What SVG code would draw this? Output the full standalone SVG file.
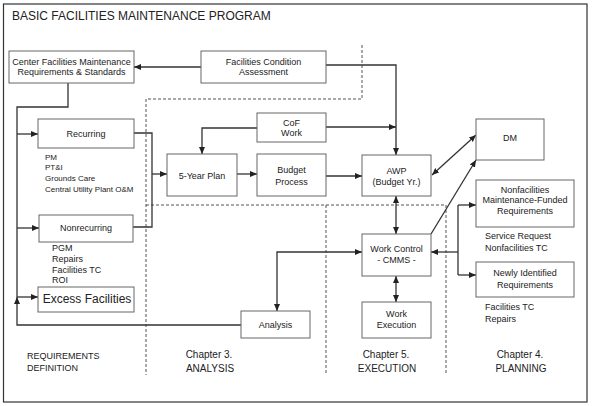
<svg xmlns="http://www.w3.org/2000/svg" width="593" height="406" viewBox="0 0 593 406">
<defs>
<marker id="a" markerUnits="userSpaceOnUse" markerWidth="7" markerHeight="6" refX="7" refY="3" orient="auto-start-reverse"><path d="M0,0 L7,3 L0,6 z" fill="#222"/></marker>
<style>
.b{fill:#fff;stroke:#666;stroke-width:1}
text{font-family:"Liberation Sans",Arial,sans-serif;font-size:9px;fill:#222}
.c{text-anchor:middle}
.ch{text-anchor:middle;font-size:10px}
.l{fill:none;stroke:#333;stroke-width:1.3}
.d{fill:none;stroke:#555;stroke-width:1;stroke-dasharray:3,2}
</style>
</defs>
<rect x="0" y="0" width="593" height="406" fill="#fff"/>
<rect x="3.5" y="4" width="583.5" height="398" fill="none" stroke="#333" stroke-width="1.2"/>
<text x="12" y="20" style="font-size:12px">BASIC FACILITIES MAINTENANCE PROGRAM</text>

<g id="dividers">
<path class="d" d="M362,45 V99 H146 V375"/>
<path class="d" d="M146,205 H446 V375"/>
<path class="d" d="M326,205 V375"/>
</g>

<g id="connectors">
<path class="l" d="M201,67 H134" marker-end="url(#a)"/>
<path class="l" d="M326,65 H396 V155" marker-end="url(#a)"/>
<path class="l" d="M326,127 H396" marker-end="url(#a)"/>
<path class="l" d="M257,128 H202 V154" marker-end="url(#a)"/>
<path class="l" d="M68,83 V107 H17 V297"/>
<path class="l" d="M241,325 H17 V297" marker-end="url(#a)"/>
<path class="l" d="M17,134 H38" marker-end="url(#a)"/>
<path class="l" d="M17,228 H39" marker-end="url(#a)"/>
<path class="l" d="M17,297 H38" marker-end="url(#a)"/>
<path class="l" d="M134,133 H152 V227 H133"/>
<path class="l" d="M152,174 H167" marker-end="url(#a)"/>
<path class="l" d="M237,174 H257" marker-end="url(#a)"/>
<path class="l" d="M326,176 H362" marker-end="url(#a)"/>
<path class="l" d="M432,175 L476,135" marker-start="url(#a)" marker-end="url(#a)"/>
<path class="l" d="M431,234 L476,160" marker-end="url(#a)"/>
<path class="l" d="M396,196 V234" marker-start="url(#a)" marker-end="url(#a)"/>
<path class="l" d="M396,276 V302" marker-start="url(#a)" marker-end="url(#a)"/>
<path class="l" d="M458,205 V275"/>
<path class="l" d="M458,205 H476" marker-end="url(#a)"/>
<path class="l" d="M458,275 H476" marker-end="url(#a)"/>
<path class="l" d="M458,252 H431" marker-end="url(#a)"/>
<path class="l" d="M362,252 H277 V311" marker-start="url(#a)" marker-end="url(#a)"/>
</g>

<g id="center"><rect class="b" x="9" y="51" width="125" height="32"/>
<text class="c" x="71.5" y="65">Center Facilities Maintenance</text>
<text class="c" x="71.5" y="75">Requirements &amp; Standards</text></g>

<g id="fca"><rect class="b" x="201" y="51" width="125" height="32"/>
<text class="c" x="263.5" y="65">Facilities Condition</text>
<text class="c" x="263.5" y="75">Assessment</text></g>

<g id="recurring"><rect class="b" x="38" y="119" width="96" height="29"/>
<text class="c" x="86" y="137">Recurring</text>
<text x="45" y="160" style="font-size:8px">PM</text>
<text x="45" y="170" style="font-size:8px">PT&amp;I</text>
<text x="45" y="180.5" style="font-size:8px">Grounds Care</text>
<text x="45" y="192" style="font-size:8px">Central Utility Plant O&amp;M</text></g>

<g id="nonrecurring"><rect class="b" x="39" y="215" width="94" height="27"/>
<text class="c" x="86" y="230.5">Nonrecurring</text>
<text x="52" y="250.5">PGM</text>
<text x="52" y="261.5">Repairs</text>
<text x="52" y="273">Facilities TC</text>
<text x="52" y="283">ROI</text></g>

<g id="excess"><rect class="b" x="38" y="287" width="96" height="25"/>
<text class="c" x="87" y="302.5" style="font-size:12px">Excess Facilities</text></g>

<g id="cof"><rect class="b" x="257" y="113" width="69" height="29"/>
<text class="c" x="291.5" y="126">CoF</text>
<text class="c" x="291.5" y="136">Work</text></g>

<g id="fiveyear"><rect class="b" x="167" y="154" width="70" height="42"/>
<text class="c" x="202" y="179">5-Year Plan</text></g>

<g id="budget"><rect class="b" x="257" y="154" width="69" height="42"/>
<text class="c" x="291.5" y="173">Budget</text>
<text class="c" x="291.5" y="185">Process</text></g>

<g id="awp"><rect class="b" x="362" y="155" width="69" height="41"/>
<text class="c" x="396.5" y="174">AWP</text>
<text class="c" x="396.5" y="185">(Budget Yr.)</text></g>

<g id="dm"><rect class="b" x="476" y="119" width="68" height="41"/>
<text class="c" x="510" y="140.5">DM</text></g>

<g id="nonfacilities"><rect class="b" x="476" y="180" width="98" height="47"/>
<text class="c" x="525" y="192.5">Nonfacilities</text>
<text class="c" x="525" y="203">Maintenance-Funded</text>
<text class="c" x="525" y="213.5">Requirements</text>
<text x="485" y="239">Service Request</text>
<text x="485" y="250.5">Nonfacilities TC</text></g>

<g id="workcontrol"><rect class="b" x="362" y="234" width="69" height="42"/>
<text class="c" x="396.5" y="252">Work Control</text>
<text class="c" x="396.5" y="263">- CMMS -</text></g>

<g id="newly"><rect class="b" x="476" y="262" width="98" height="35"/>
<text class="c" x="525" y="275.5">Newly Identified</text>
<text class="c" x="525" y="287.5">Requirements</text>
<text x="485" y="310">Facilities TC</text>
<text x="485" y="322">Repairs</text></g>

<g id="workexecution"><rect class="b" x="362" y="302" width="69" height="36"/>
<text class="c" x="396.5" y="316.5">Work</text>
<text class="c" x="396.5" y="327.5">Execution</text></g>

<g id="analysis"><rect class="b" x="241" y="311" width="69" height="27"/>
<text class="c" x="275.5" y="327.5">Analysis</text></g>

<g id="labels">
<text x="27" y="359">REQUIREMENTS</text>
<text x="27" y="371">DEFINITION</text>
<text class="ch" x="209" y="358">Chapter 3.</text>
<text class="ch" x="210" y="371.5">ANALYSIS</text>
<text class="ch" x="386" y="358">Chapter 5.</text>
<text class="ch" x="387" y="371.5">EXECUTION</text>
<text class="ch" x="520" y="358">Chapter 4.</text>
<text class="ch" x="521" y="371.5">PLANNING</text>
</g>
</svg>
